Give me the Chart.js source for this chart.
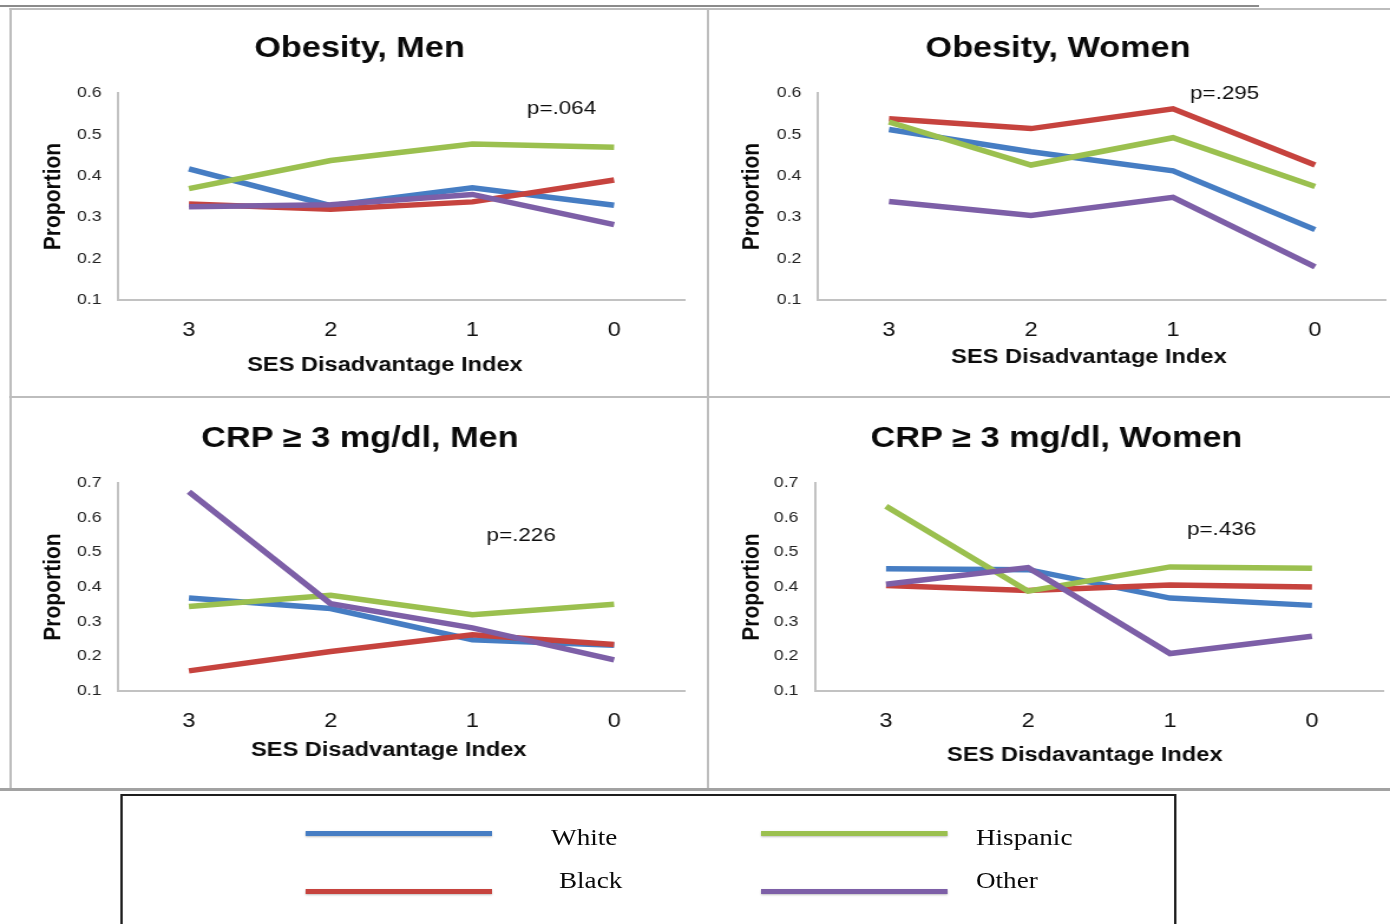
<!DOCTYPE html>
<html>
<head>
<meta charset="utf-8">
<script src="https://cdn.jsdelivr.net/npm/chart.js@4.4.1/dist/chart.umd.min.js"></script>
<style>
  html, body { margin: 0; padding: 0; background: #fff; overflow: hidden; }
  /* the reference picture is stretched sideways, so the whole page is too */
  #page { position: absolute; left: 0; top: 0; width: 1178px; height: 924px; transform: scaleX(1.18); transform-origin: 0 0; }
  .rule { position: absolute; background: #bdbdbd; }
  canvas { position: absolute; }
  #legendBox { position: absolute; left: 102px; top: 794px; width: 891px; height: 150px; border: 2px solid #1e1e1e; }
  .key { position: absolute; width: 158px; height: 5px; box-shadow: 0 1px 2px rgba(0,0,0,0.25); }
  .lab { position: absolute; font: 23px 'Liberation Serif', 'Times New Roman', serif; line-height: 26px; color: #0a0a0a; white-space: nowrap; }
</style>
</head>
<body>
<div id="page">
  <div class="rule" style="left:0; top:5px; width:1067px; height:2px; background:#8a8a8a;"></div>
  <div class="rule" style="left:8px; top:8px; width:1170px; height:2px;"></div>
  <div class="rule" style="left:8px; top:8px; width:2px; height:782px;"></div>
  <div class="rule" style="left:599px; top:8px; width:2px; height:782px;"></div>
  <div class="rule" style="left:8px; top:396px; width:1170px; height:2px;"></div>
  <div class="rule" style="left:0; top:788px; width:1178px; height:3px; background:#a2a2a2;"></div>
  <div id="legendBox"></div>
  <canvas id="c1" width="592" height="389"></canvas>
  <canvas id="c2" width="578" height="389"></canvas>
  <canvas id="c3" width="592" height="393"></canvas>
  <canvas id="c4" width="578" height="393"></canvas>
</div>
<script>
// categories (SES disadvantage index, most disadvantaged first)
const categories = ['3', '2', '1', '0'];
const groups = ['White', 'Black', 'Hispanic', 'Other'];

// Obesity, Men
const obMenWhite    = [0.417, 0.328, 0.371, 0.329];
const obMenBlack    = [0.332, 0.319, 0.337, 0.390];
const obMenHispanic = [0.369, 0.437, 0.477, 0.469];
const obMenOther    = [0.325, 0.330, 0.355, 0.282];

// Obesity, Women
const obWomenWhite    = [0.512, 0.458, 0.412, 0.270];
const obWomenBlack    = [0.538, 0.514, 0.562, 0.426];
const obWomenHispanic = [0.530, 0.426, 0.492, 0.374];
const obWomenOther    = [0.338, 0.304, 0.348, 0.180];

// CRP >= 3 mg/dl, Men
const crpMenWhite    = [0.368, 0.338, 0.248, 0.232];
const crpMenBlack    = [0.158, 0.214, 0.262, 0.234];
const crpMenHispanic = [0.344, 0.376, 0.320, 0.350];
const crpMenOther    = [0.675, 0.352, 0.282, 0.190];

// CRP >= 3 mg/dl, Women
const crpWomenWhite    = [0.453, 0.450, 0.368, 0.347];
const crpWomenBlack    = [0.404, 0.390, 0.406, 0.400];
const crpWomenHispanic = [0.633, 0.388, 0.458, 0.454];
const crpWomenOther    = [0.408, 0.456, 0.208, 0.258];

const yTicksObesity = [0.1, 0.2, 0.3, 0.4, 0.5, 0.6];
const yTicksCrp = [0.1, 0.2, 0.3, 0.4, 0.5, 0.6, 0.7];
const pValues = ['p=.064', 'p=.295', 'p=.226', 'p=.436'];

const seriesColors = ['#467dc3', '#c6433e', '#9bc04f', '#7d5fa7'];
const axisColor = '#c2c2c2';
const sans = "'Liberation Sans', Arial, sans-serif";

Chart.defaults.font.family = sans;
Chart.defaults.color = '#1a1a1a';

// text drawn on the plot: p value and x axis title, placed through the scales
function notesPlugin(items) {
  return {
    id: 'notes',
    afterDraw(chart) {
      const {ctx, chartArea} = chart;
      const x = chart.scales.x, y = chart.scales.y;
      ctx.save();
      items.forEach(it => {
        ctx.font = it.font;
        ctx.fillStyle = '#0d0d0d';
        ctx.textAlign = it.align;
        ctx.textBaseline = 'middle';
        const px = x.getPixelForValue(it.x);
        const py = it.y != null ? y.getPixelForValue(it.y) : chartArea.bottom + it.dy;
        ctx.fillText(it.text, px, py);
      });
      ctx.restore();
    }
  };
}

const panels = [
  { id: 'c1', title: 'Obesity, Men', ticks: yTicksObesity,
    series: [obMenWhite, obMenBlack, obMenHispanic, obMenOther],
    note: pValues[0], noteX: 2.385, noteY: 0.561,
    xTitle: 'SES Disadvantage Index', xTitleAt: 1.383, xTitleDy: 65,
    left: 8, top: 8, w: 592, h: 389, plotL: 100, plotR: 580.5, plotT: 93, plotB: 300,
    titleX: 304.7, titleY: 48.5, yTitleX: 44.9 },
  { id: 'c2', title: 'Obesity, Women', ticks: yTicksObesity,
    series: [obWomenWhite, obWomenBlack, obWomenHispanic, obWomenOther],
    note: pValues[1], noteX: 2.12, noteY: 0.598,
    xTitle: 'SES Disadvantage Index', xTitleAt: 1.408, xTitleDy: 57.5,
    left: 600, top: 8, w: 578, h: 389, plotL: 693.2, plotR: 1174.6, plotT: 93, plotB: 300,
    titleX: 896.6, titleY: 48.5, yTitleX: 637.3 },
  { id: 'c3', title: 'CRP \u2265 3 mg/dl, Men', ticks: yTicksCrp,
    series: [crpMenWhite, crpMenBlack, crpMenHispanic, crpMenOther],
    note: pValues[2], noteX: 2.10, noteY: 0.547,
    xTitle: 'SES Disadvantage Index', xTitleAt: 1.41, xTitleDy: 59.5,
    left: 8, top: 397, w: 592, h: 393, plotL: 100, plotR: 580.5, plotT: 483, plotB: 691,
    titleX: 305, titleY: 438.5, yTitleX: 44.9 },
  { id: 'c4', title: 'CRP \u2265 3 mg/dl, Women', ticks: yTicksCrp,
    series: [crpWomenWhite, crpWomenBlack, crpWomenHispanic, crpWomenOther],
    note: pValues[3], noteX: 2.12, noteY: 0.565,
    xTitle: 'SES Disdavantage Index', xTitleAt: 1.40, xTitleDy: 64.5,
    left: 600, top: 397, w: 578, h: 393, plotL: 690.7, plotR: 1172, plotT: 483, plotB: 691,
    titleX: 895.3, titleY: 438.5, yTitleX: 637.3 }
];

panels.forEach(p => {
  const cv = document.getElementById(p.id);
  cv.style.left = p.left + 'px';
  cv.style.top = p.top + 'px';

  const pl = p.plotL - p.left, pr = p.plotR - p.left;
  const pt = p.plotT - p.top, pb = p.plotB - p.top;
  const tx = p.titleX - p.left, ty = p.titleY - p.top;
  const padL = 2 * tx - pr;

  new Chart(cv, {
    type: 'line',
    data: {
      labels: categories,
      datasets: groups.map((g, i) => ({
        label: g,
        data: p.series[i],
        borderColor: seriesColors[i],
        backgroundColor: seriesColors[i],
        borderWidth: 5.5,
        pointRadius: 0,
        pointHoverRadius: 0,
        tension: 0,
        fill: false,
        order: 3 - i
      }))
    },
    options: {
      responsive: false,
      animation: false,
      devicePixelRatio: 1,
      layout: { padding: { left: padL, right: p.w - pr, top: 0, bottom: 0 } },
      plugins: {
        legend: { display: false },
        tooltip: { enabled: false },
        title: {
          display: true,
          text: p.title,
          color: '#0a0a0a',
          font: { size: 29, weight: 'bold' },
          padding: { top: ty - 17.4, bottom: pt - ty - 17.4 }
        }
      },
      scales: {
        x: {
          type: 'category',
          offset: true,
          grid: { display: false, drawTicks: false },
          border: { display: true, color: axisColor, width: 2 },
          ticks: { font: { size: 20 }, color: '#111', padding: 18, maxRotation: 0, autoSkip: false },
          afterFit: s => { s.height = p.h - pb; }
        },
        y: {
          min: p.ticks[0],
          max: p.ticks[p.ticks.length - 1],
          grid: { display: false, drawTicks: false },
          border: { display: true, color: axisColor, width: 2 },
          ticks: { font: { size: 15 }, color: '#222', padding: 14, callback: v => Number(v).toFixed(1) },
          afterBuildTicks: s => { s.ticks = p.ticks.map(v => ({ value: v })); },
          title: {
            display: true,
            text: 'Proportion',
            color: '#0a0a0a',
            font: { size: 21, weight: 'bold' },
            padding: { top: (p.yTitleX - p.left) - padL - 12.6, bottom: 0 }
          },
          afterFit: s => { s.width = pl - padL; }
        }
      }
    },
    plugins: [notesPlugin([
      { text: p.note, x: p.noteX, y: p.noteY, font: '19px ' + sans, align: 'left' },
      { text: p.xTitle, x: p.xTitleAt, dy: p.xTitleDy, font: 'bold 20px ' + sans, align: 'center' }
    ])]
  });
});

// legend: two columns, White/Black then Hispanic/Other
const legendSpots = [
  { lineX: 259.3, lineY: 830.5, textX: 467, textY: 825 },
  { lineX: 259.3, lineY: 888.5, textX: 473.7, textY: 868 },
  { lineX: 644.9, lineY: 830.5, textX: 827.1, textY: 825 },
  { lineX: 644.9, lineY: 888.5, textX: 827.1, textY: 868 }
];
const page = document.getElementById('page');
groups.forEach((g, i) => {
  const s = legendSpots[i];
  const key = document.createElement('div');
  key.className = 'key';
  key.style.left = s.lineX + 'px';
  key.style.top = s.lineY + 'px';
  key.style.background = seriesColors[i];
  page.appendChild(key);
  const lab = document.createElement('div');
  lab.className = 'lab';
  lab.style.left = s.textX + 'px';
  lab.style.top = s.textY + 'px';
  lab.textContent = g;
  page.appendChild(lab);
});
</script>
</body>
</html>
